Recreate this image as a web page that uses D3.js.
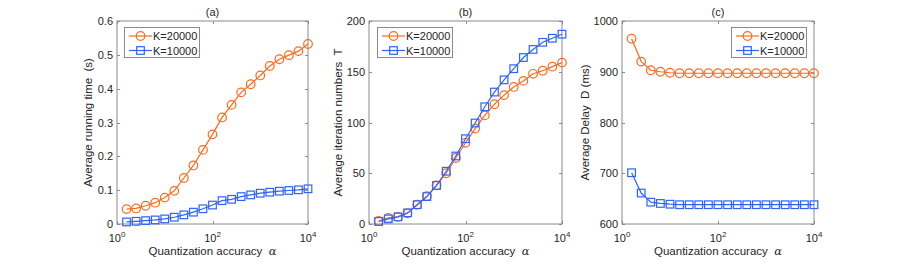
<!DOCTYPE html>
<html><head><meta charset="utf-8">
<script src="https://cdn.jsdelivr.net/npm/d3@7"></script>
<style>
body{margin:0;background:#fff;}
svg{display:block;font-family:"Liberation Sans",Arial,Helvetica,sans-serif;}
</style></head>
<body><svg id="chart" width="900" height="264"></svg>
<script>
// x positions: alpha = 10^(0.2k), k = 1..20
const alphaExp = [0.2,0.4,0.6,0.8,1.0,1.2,1.4,1.6,1.8,2.0,2.2,2.4,2.6,2.8,3.0,3.2,3.4,3.6,3.8,4.0];
const seriesNames = ["K=20000","K=10000"];
// (a) Average running time (s)
const timeK20000 = [0.044,0.046,0.054,0.063,0.078,0.098,0.136,0.173,0.219,0.265,0.315,0.352,0.389,0.413,0.439,0.467,0.487,0.499,0.511,0.532];
const timeK10000 = [0.006,0.008,0.010,0.012,0.015,0.020,0.027,0.035,0.045,0.056,0.069,0.073,0.081,0.086,0.091,0.094,0.097,0.099,0.101,0.104];
// (b) Average iteration numbers T
const iterK20000 = [3,6,7,10.5,19,27.5,38,50,65,80,94,107,118,127,135,141,148,151,155,159];
const iterK10000 = [2.5,5,7,11,19,27,38,52,67,84,99.5,115.5,130,142,153,164,172,179,183,187];
// (c) Average Delay D (ms)
const delayK20000 = [965,920,903,900,898,897,897,897,897,897,897,897,897,897,897,897,897,897,897,897];
const delayK10000 = [701,661,643,640.5,639,638,638,638,638,638,638,638,638,638,638,638,638,638,638,638];
// tick labels
const xTickExps = [0,2,4];
const yTicksA = [0,0.1,0.2,0.3,0.4,0.5,0.6];
const yTicksB = [0,50,100,150,200];
const yTicksC = [600,700,800,900,1000];
const titles = ["(a)","(b)","(c)"];
const yLabels = ["Average running time  (s)","Average iteration numbers  T","Average Delay  D (ms)"];
const xLabel = "Quantization accuracy";

const COLORS = ["#FF6A1C","#2F62FF"];
const svg = d3.select("#chart");

const panels = [
  {x0:117,x1:308,ticks:yTicksA,dom:[0,0.6],data:[timeK20000,timeK10000],fmt:d=>d===0?"0":d3.format(".1f")(d),ylx:88,legend:{x:124,y:27}},
  {x0:369,x1:562,ticks:yTicksB,dom:[0,200],data:[iterK20000,iterK10000],fmt:d=>String(d),ylx:338,legend:{x:377,y:27}},
  {x0:622,x1:814,ticks:yTicksC,dom:[600,1000],data:[delayK20000,delayK10000],fmt:d=>String(d),ylx:585,legend:{x:731,y:27}}
];
const yTop=21, yBot=224;
const textColor="#262626", axisColor="#8a8a8a";

panels.forEach((p,pi)=>{
  const x = d3.scaleLog().domain([1,1e4]).range([p.x0,p.x1]);
  const y = d3.scaleLinear().domain(p.dom).range([yBot,yTop]);
  const g = svg.append("g");
  // box
  g.append("rect").attr("x",p.x0).attr("y",yTop).attr("width",p.x1-p.x0).attr("height",yBot-yTop)
    .attr("fill","#fff").attr("stroke",axisColor).attr("stroke-width",1);
  // y ticks (inward, both sides)
  p.ticks.forEach(t=>{
    const yy = Math.round(y(t))+0.5;
    g.append("line").attr("x1",p.x0).attr("x2",p.x0+3).attr("y1",yy).attr("y2",yy).attr("stroke",axisColor);
    g.append("line").attr("x1",p.x1-3).attr("x2",p.x1).attr("y1",yy).attr("y2",yy).attr("stroke",axisColor);
    g.append("text").attr("x",p.x0-4).attr("y",y(t)+4).attr("text-anchor","end")
      .attr("font-size",11).attr("fill",textColor).text(p.fmt(t));
  });
  // x ticks
  xTickExps.forEach(e=>{
    const xx = Math.round(x(Math.pow(10,e)))+0.5;
    g.append("line").attr("x1",xx).attr("x2",xx).attr("y1",yBot-3).attr("y2",yBot).attr("stroke",axisColor);
    g.append("line").attr("x1",xx).attr("x2",xx).attr("y1",yTop).attr("y2",yTop+3).attr("stroke",axisColor);
    const t = g.append("text").attr("x",x(Math.pow(10,e))).attr("y",242).attr("text-anchor","middle")
      .attr("font-size",11).attr("fill",textColor);
    t.append("tspan").text("10");
    t.append("tspan").attr("dy",-5).attr("font-size",8).text(String(e));
  });
  // title
  g.append("text").attr("x",(p.x0+p.x1)/2).attr("y",16).attr("text-anchor","middle")
    .attr("font-size",11).attr("fill",textColor).text(titles[pi]);
  // x label
  const xl = g.append("text").attr("x",(p.x0+p.x1)/2).attr("y",255).attr("text-anchor","middle")
    .attr("font-size",11.5).attr("fill",textColor).style("white-space","pre");
  xl.append("tspan").text(xLabel+"  ");
  xl.append("tspan").attr("font-family","'DejaVu Serif','Liberation Serif',serif").attr("font-style","italic").text("α");
  // y label
  g.append("text").attr("transform",`translate(${p.ylx},${(yTop+yBot)/2}) rotate(-90)`)
    .attr("text-anchor","middle").attr("dy","0.35em").attr("font-size",11.5).attr("fill",textColor)
    .style("white-space","pre").text(yLabels[pi]);
  // series
  const line = d3.line().x((d,i)=>x(Math.pow(10,alphaExp[i]))).y(d=>y(d));
  p.data.forEach((ser,si)=>{
    g.append("path").datum(ser).attr("d",line).attr("fill","none").attr("stroke",COLORS[si]).attr("stroke-width",1.2);
    if(si===0){
      g.selectAll(null).data(ser).enter().append("circle")
        .attr("cx",(d,i)=>x(Math.pow(10,alphaExp[i]))).attr("cy",d=>y(d)).attr("r",4.3)
        .attr("fill","none").attr("stroke",COLORS[0]).attr("stroke-width",1.2);
    } else {
      g.selectAll(null).data(ser).enter().append("rect")
        .attr("x",(d,i)=>x(Math.pow(10,alphaExp[i]))-3.8).attr("y",d=>y(d)-3.8).attr("width",7.6).attr("height",7.6)
        .attr("fill","none").attr("stroke",COLORS[1]).attr("stroke-width",1.2);
    }
  });
  // legend
  const L = p.legend;
  g.append("rect").attr("x",L.x+0.5).attr("y",L.y+0.5).attr("width",75).attr("height",30)
    .attr("fill","#fff").attr("stroke",axisColor).attr("stroke-width",1);
  seriesNames.forEach((nm,si)=>{
    const cy = L.y + 9 + si*14.5;
    g.append("line").attr("x1",L.x+5).attr("x2",L.x+28).attr("y1",cy).attr("y2",cy)
      .attr("stroke",COLORS[si]).attr("stroke-width",1.2);
    if(si===0) g.append("circle").attr("cx",L.x+16.5).attr("cy",cy).attr("r",4.3).attr("fill","none").attr("stroke",COLORS[0]).attr("stroke-width",1.2);
    else g.append("rect").attr("x",L.x+16.5-3.8).attr("y",cy-3.8).attr("width",7.6).attr("height",7.6).attr("fill","none").attr("stroke",COLORS[1]).attr("stroke-width",1.2);
    g.append("text").attr("x",L.x+29).attr("y",cy+4).attr("font-size",11).attr("fill",textColor).text(nm);
  });
});
</script></body></html>
